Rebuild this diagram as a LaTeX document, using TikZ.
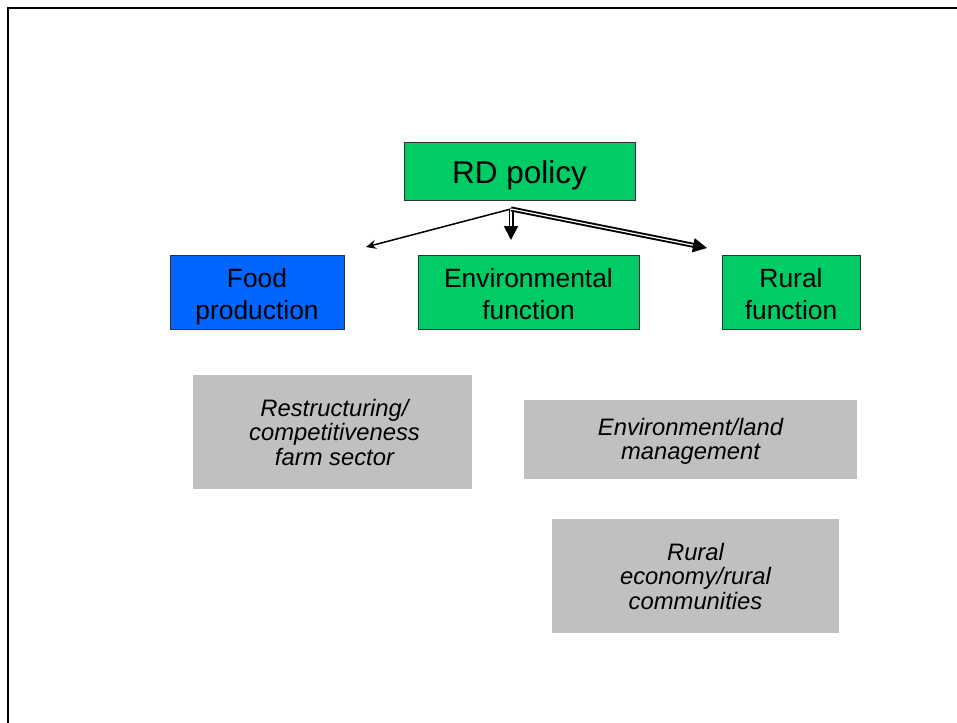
\documentclass[tikz,border=0pt]{standalone}
\usepackage{fontspec}
\setmainfont{Liberation Sans}
\usetikzlibrary{arrows.meta}
\definecolor{boxgreen}{RGB}{0,204,102}
\definecolor{boxblue}{RGB}{0,102,255}
\definecolor{boxgray}{RGB}{192,192,192}
\definecolor{edgegray}{RGB}{50,50,50}
\tikzset{
  colbox/.style={draw=edgegray, line width=0.9pt, inner sep=0pt},
  coltext/.style={align=center, inner sep=0pt, font=\fontsize{26.4}{31.7}\selectfont},
  graybox/.style={fill=boxgray, draw=none, inner sep=0pt},
  graytext/.style={align=center, inner sep=0pt, font=\fontsize{23.8}{24.5}\selectfont\itshape},
  thinarrow/.style={line width=1.5pt, -{Stealth[length=10pt,width=9pt]}},
  dblarrow/.style={double, double distance=1.2pt, line width=1.9pt,
    -{Triangle[length=14pt,width=14pt]}}
}
\begin{document}
\begin{tikzpicture}[x=1pt,y=-1pt]
\useasboundingbox (0,0) rectangle (957,722);
\clip (0,0) rectangle (957,722);
\draw[line width=2pt] (7.7,740) -- (7.7,7.7) -- (980,7.7);

\node[colbox, fill=boxgreen, minimum width=231pt, minimum height=58pt,
  label={[coltext, font=\fontsize{31.5}{36}\selectfont, yshift=-4pt]center:RD policy}] (rd) at (519.5,171) {};
\node[colbox, fill=boxblue, minimum width=174pt, minimum height=74pt,
  label={[coltext, yshift=-4.5pt]center:Food\\production}] (food) at (257,292) {};
\node[colbox, fill=boxgreen, minimum width=221pt, minimum height=74pt,
  label={[coltext, yshift=-2pt]center:Environmental\\function}] (env) at (528.5,292) {};
\node[colbox, fill=boxgreen, minimum width=138pt, minimum height=74pt,
  label={[coltext, yshift=-2pt]center:Rural\\function}] (rural) at (791,292) {};

\node[graybox, minimum width=279pt, minimum height=114pt,
  label={[graytext, xshift=2pt]center:Restructuring/\\competitiveness\\farm sector}] (g1) at (332.5,432) {};
\node[graybox, minimum width=333pt, minimum height=79pt,
  label={[graytext, yshift=-2pt]center:Environment/land\\management}] (g2) at (690.5,439.5) {};
\node[graybox, minimum width=287pt, minimum height=114pt,
  label={[graytext]center:Rural\\economy/rural\\communities}] (g3) at (695.5,576) {};

\coordinate (src) at (511,209);
\coordinate (tipfood) at (366,247);
\coordinate (tipenv) at (511,240);
\coordinate (tiprural) at (707,248);

\draw[thinarrow] (src) -- (tipfood);
\draw[dblarrow] (src) -- (tipenv);
\draw[dblarrow] (src) -- (tiprural);
\end{tikzpicture}
\end{document}
